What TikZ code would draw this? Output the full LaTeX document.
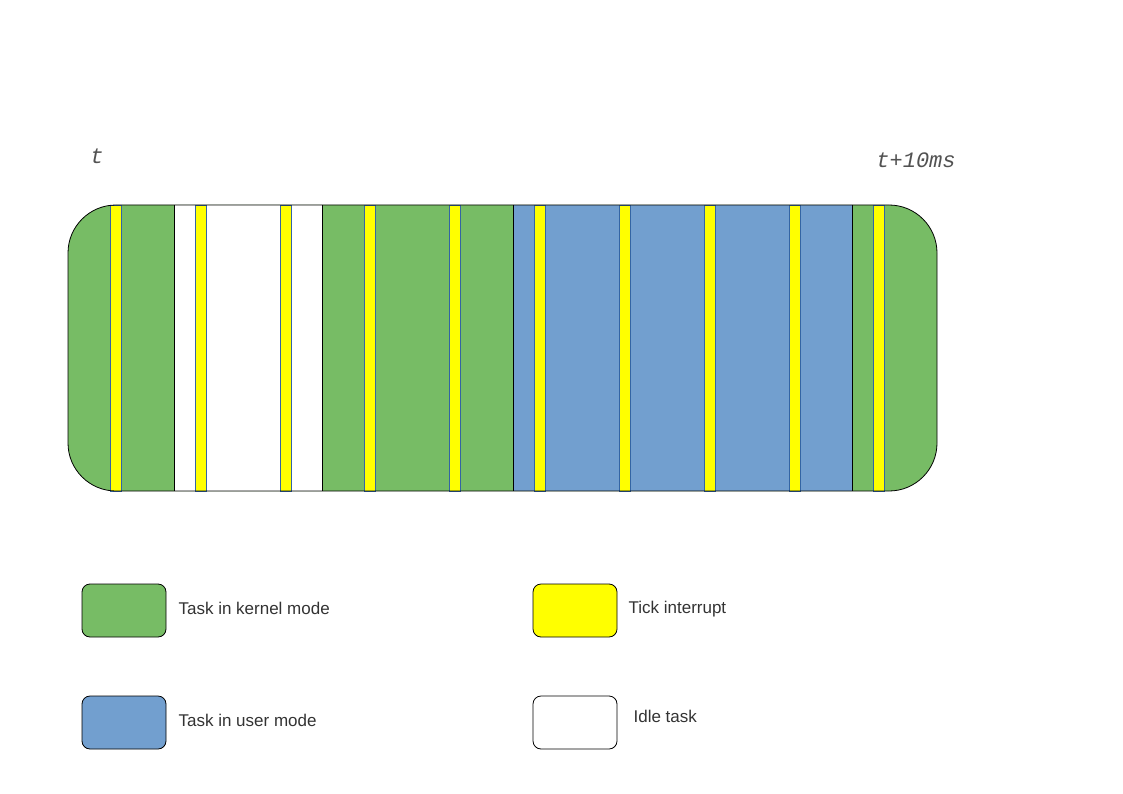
\documentclass[tikz,border=0pt]{standalone}
\usepackage{fontspec}
\setmainfont{Liberation Sans}
\setmonofont{Liberation Mono}
\usepackage{xcolor}
\definecolor{kernel}{HTML}{77BC65}
\definecolor{user}{HTML}{729FCF}
\definecolor{tick}{HTML}{FFFF00}
\definecolor{tickedge}{HTML}{3465A4}
\definecolor{ink}{HTML}{333333}
\usetikzlibrary{positioning}

\tikzset{
  legendbox/.style={draw=black,line width=0.8pt,rounded corners=8pt,
    minimum width=84pt,minimum height=53pt,inner sep=0pt},
  legendtext/.style={ink,inner sep=0pt,anchor=west,
    font=\fontsize{17}{20}\selectfont},
  timelabel/.style={ink!85,inner sep=0pt,
    font=\ttfamily\itshape\fontsize{22}{24}\selectfont}
}

\begin{document}
\begin{tikzpicture}[x=1pt,y=-1pt]
  \useasboundingbox (0,0) rectangle (1123,794);
  % time marks
  \node[timelabel] (tstart) at (97,156) {t};
  \node[timelabel] (tend) at (916,160) {t+10ms};
  % band: kernel background with rounded ends
  \fill[kernel,rounded corners=48pt] (68,205) rectangle (937,491);
  % idle and user stretches
  \fill[white] (174,205) rectangle (322,491);
  \fill[user] (513,205) rectangle (852,491);
  \foreach \x in {174,322,513,852}
    \draw[line width=0.8pt] (\x,205) -- (\x,491);
  % tick interrupts
  \foreach \x in {110,195,280,364,449,534,619,704,789,873}
    \filldraw[fill=tick,draw=tickedge,line width=0.6pt] (\x,205) rectangle ++(11,286);
  % outline
  \draw[line width=0.8pt,rounded corners=48pt] (68,205) rectangle (937,491);
  % legend
  \node[legendbox,fill=kernel] (kbox) at (124,610.5) {};
  \node[legendtext,right=12pt of kbox,yshift=2pt] (ktext) {Task in kernel mode};
  \node[legendbox,fill=user] (ubox) at (124,722.5) {};
  \node[legendtext,right=12pt of ubox,yshift=2pt] (utext) {Task in user mode};
  \node[legendbox,fill=tick] (tbox) at (575,610.5) {};
  \node[legendtext,right=11pt of tbox,yshift=1pt] (ttext) {Tick interrupt};
  \node[legendbox,fill=white] (ibox) at (575,722.5) {};
  \node[legendtext,right=16pt of ibox,yshift=6pt] (itext) {Idle task};
\end{tikzpicture}
\end{document}
